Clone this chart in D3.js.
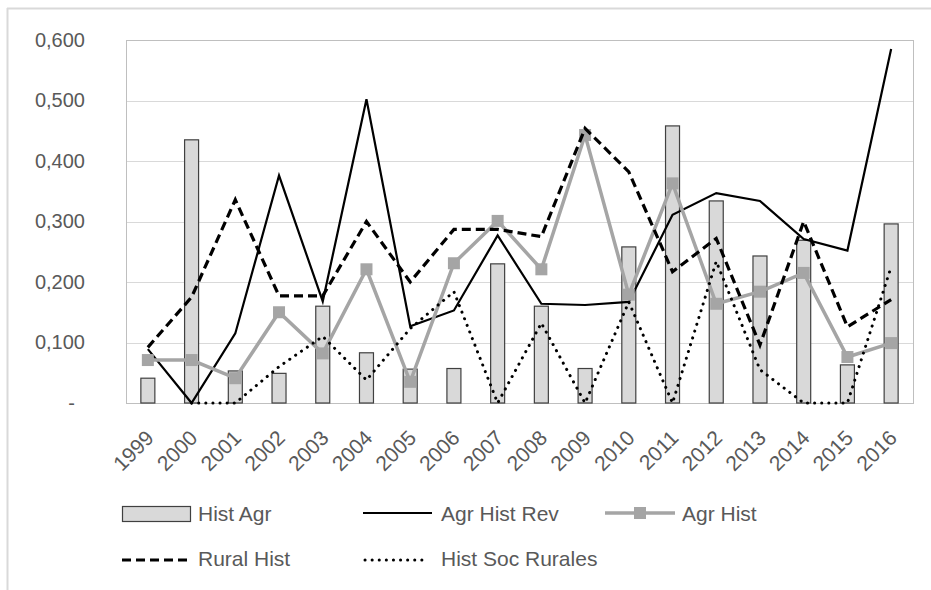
<!DOCTYPE html>
<html>
<head>
<meta charset="utf-8">
<script src="https://cdn.jsdelivr.net/npm/d3@7"></script>
<style>
  body { margin: 0; background: #fff; }
  svg text { font-family: "Liberation Sans", Arial, sans-serif; fill: #595959; }
</style>
</head>
<body>
<script>
// data
var years = ["1999","2000","2001","2002","2003","2004","2005","2006","2007","2008","2009","2010","2011","2012","2013","2014","2015","2016"];
var histAgr = [0.041,0.435,0.053,0.049,0.160,0.083,0.056,0.057,0.230,0.160,0.057,0.258,0.458,0.334,0.243,0.269,0.063,0.296];
var agrHistRev = [0.089,0.000,0.115,0.376,0.168,0.502,0.127,0.153,0.277,0.164,0.162,0.167,0.311,0.347,0.334,0.271,0.252,0.585];
var agrHist = [0.071,0.071,0.041,0.150,0.082,0.221,0.035,0.231,0.301,0.221,0.443,0.179,0.363,0.164,0.184,0.215,0.076,0.099];
var ruralHist = [0.092,0.175,0.336,0.177,0.177,0.300,0.200,0.287,0.287,0.275,0.454,0.382,0.217,0.272,0.096,0.300,0.126,0.171];
var histSocRurales = [null,0,0,0.060,0.110,0.038,0.123,0.184,0,0.132,0,0.167,0,0.234,0.055,0,0,0.225];
var yTicks = [0,0.1,0.2,0.3,0.4,0.5,0.6];

var w = 931, h = 590;
var plotLeft = 126, plotRight = 913, plotTop = 40, plotBottom = 403;

var svg = d3.select("body").append("svg")
    .attr("width", w)
    .attr("height", h);

// outer chart frame (only top and left visible)
svg.append("line").attr("x1", 7).attr("x2", w).attr("y1", 8.5).attr("y2", 8.5)
    .style("stroke", "#d9d9d9").style("stroke-width", 2);
svg.append("line").attr("x1", 7.5).attr("x2", 7.5).attr("y1", 8).attr("y2", h)
    .style("stroke", "#d9d9d9").style("stroke-width", 2);

var x = d3.scaleBand()
    .domain(years)
    .range([plotLeft, plotRight])
    .paddingInner(0.68)
    .paddingOuter(0.34);

var y = d3.scaleLinear()
    .domain([0, 0.6])
    .range([plotBottom, plotTop]);

function cx(i) { return x(years[i]) + x.bandwidth() / 2; }

// gridlines
svg.append("g")
    .selectAll("line")
    .data(yTicks)
    .enter()
    .append("line")
    .attr("x1", plotLeft)
    .attr("x2", plotRight)
    .attr("y1", function(d) { return Math.round(y(d)) + 0.5; })
    .attr("y2", function(d) { return Math.round(y(d)) + 0.5; })
    .style("stroke", "#d9d9d9")
    .style("stroke-width", 1);

// plot frame
svg.append("rect")
    .attr("x", plotLeft + 0.5)
    .attr("y", plotTop + 0.5)
    .attr("width", plotRight - plotLeft)
    .attr("height", plotBottom - plotTop)
    .style("fill", "none")
    .style("stroke", "#bfbfbf")
    .style("stroke-width", 1);

// y axis labels
var yAxis = d3.axisLeft(y)
    .tickValues(yTicks)
    .tickSize(0)
    .tickPadding(0)
    .tickFormat(function(d) { return d === 0 ? "-" : d3.format(".3f")(d).replace(".", ","); });

var yg = svg.append("g")
    .attr("transform", "translate(85,0)")
    .call(yAxis);
yg.select(".domain").remove();
yg.selectAll("text")
    .style("font-size", "20px")
    .style("font-family", "Liberation Sans, Arial, sans-serif")
    .attr("fill", "#595959")
    .attr("x", function(d) { return d === 0 ? -10 : 0; });

// x axis labels
var xAxis = d3.axisBottom(x).tickSize(0).tickPadding(0);
var xg = svg.append("g")
    .attr("transform", "translate(0," + plotBottom + ")")
    .call(xAxis);
xg.select(".domain").remove();
xg.selectAll("text")
    .style("font-size", "21px")
    .style("font-family", "Liberation Sans, Arial, sans-serif")
    .attr("fill", "#595959")
    .attr("text-anchor", "end")
    .attr("x", 0)
    .attr("y", 0)
    .attr("dy", "0.35em")
    .attr("transform", "translate(2,31) rotate(-45)");

// bars
svg.append("g")
    .selectAll("rect")
    .data(histAgr)
    .enter()
    .append("rect")
    .attr("x", function(d, i) { return x(years[i]); })
    .attr("y", function(d) { return y(d); })
    .attr("width", x.bandwidth())
    .attr("height", function(d) { return plotBottom - y(d); })
    .style("fill", "#d9d9d9")
    .style("stroke", "#404040")
    .style("stroke-width", 1.2);

var line = d3.line()
    .defined(function(d) { return d !== null; })
    .x(function(d, i) { return cx(i); })
    .y(function(d) { return y(d); });

// Agr Hist Rev
svg.append("path")
    .datum(agrHistRev)
    .attr("d", line)
    .style("fill", "none")
    .style("stroke", "#000")
    .style("stroke-width", 2.2);

// Agr Hist
svg.append("path")
    .datum(agrHist)
    .attr("d", line)
    .style("fill", "none")
    .style("stroke", "#a5a5a5")
    .style("stroke-width", 3.5);

svg.append("g")
    .selectAll("rect")
    .data(agrHist)
    .enter()
    .append("rect")
    .attr("x", function(d, i) { return cx(i) - 6; })
    .attr("y", function(d) { return y(d) - 6; })
    .attr("width", 12)
    .attr("height", 12)
    .style("fill", "#a5a5a5");

// Rural Hist
svg.append("path")
    .datum(ruralHist)
    .attr("d", line)
    .style("fill", "none")
    .style("stroke", "#000")
    .style("stroke-width", 3.2)
    .style("stroke-dasharray", "9,5");

// Hist Soc Rurales
svg.append("path")
    .datum(histSocRurales)
    .attr("d", line)
    .style("fill", "none")
    .style("stroke", "#000")
    .style("stroke-width", 3)
    .style("stroke-linecap", "round")
    .style("stroke-dasharray", "0.1,7");

// legend
var lg = svg.append("g").style("font-size", "21px");

lg.append("rect")
    .attr("x", 122.5).attr("y", 506.5).attr("width", 68).attr("height", 15)
    .style("fill", "#d9d9d9").style("stroke", "#404040").style("stroke-width", 1.2);
lg.append("text").attr("x", 198).attr("y", 521).text("Hist Agr");

lg.append("line").attr("x1", 363).attr("x2", 432).attr("y1", 513).attr("y2", 513)
    .style("stroke", "#000").style("stroke-width", 2.2);
lg.append("text").attr("x", 441).attr("y", 521).text("Agr Hist Rev");

lg.append("line").attr("x1", 605).attr("x2", 675).attr("y1", 513).attr("y2", 513)
    .style("stroke", "#a5a5a5").style("stroke-width", 3.5);
lg.append("rect").attr("x", 634).attr("y", 507).attr("width", 12).attr("height", 12)
    .style("fill", "#a5a5a5");
lg.append("text").attr("x", 682).attr("y", 521).text("Agr Hist");

lg.append("line").attr("x1", 122).attr("x2", 190).attr("y1", 560).attr("y2", 560)
    .style("stroke", "#000").style("stroke-width", 3.2).style("stroke-dasharray", "9,5");
lg.append("text").attr("x", 198).attr("y", 566).text("Rural Hist");

lg.append("line").attr("x1", 365).attr("x2", 428).attr("y1", 560).attr("y2", 560)
    .style("stroke", "#000").style("stroke-width", 3).style("stroke-linecap", "round")
    .style("stroke-dasharray", "0.1,7");
lg.append("text").attr("x", 441).attr("y", 566).text("Hist Soc Rurales");
</script>
</body>
</html>
